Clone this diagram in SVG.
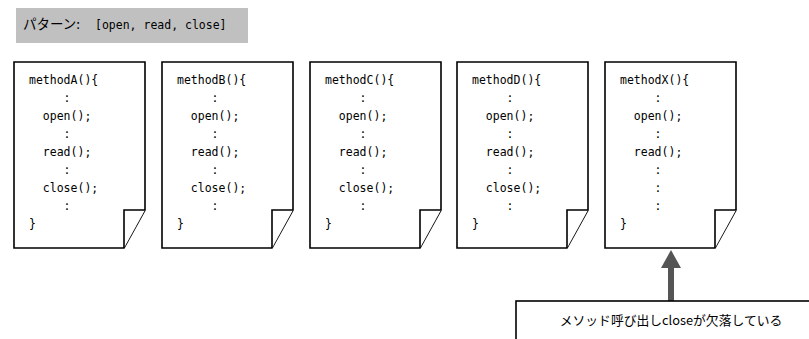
<svg xmlns="http://www.w3.org/2000/svg" width="809" height="339" viewBox="0 0 809 339">
<style>
.page{fill:#fff;stroke:#000;stroke-width:1.6;stroke-linejoin:miter}
.code{font-family:"DejaVu Sans Mono","Liberation Mono",monospace;font-size:11.5px;fill:#000}
.jp{font-family:"Noto Sans CJK JP","Noto Sans",sans-serif;fill:#000}
</style>
<defs>
<g id="doc">
<path class="page" d="M0,0 H131 V148 L110,186 H0 Z"/>
<path class="page" d="M110,186 V148 H131"/>
</g>
</defs>
<g id="pattern">
<rect x="16" y="8" width="232" height="35" fill="#c0c0c0"/>
<text y="29"><tspan class="jp" x="23" font-size="13.5">パターン:</tspan><tspan class="code" x="95" font-size="12">[open, read, close]</tspan></text>
</g>
<g id="methodA" transform="translate(14,62)">
<use href="#doc"/>
<text class="code" xml:space="preserve"><tspan x="15" y="22">methodA(){</tspan><tspan x="15" y="40">     :</tspan><tspan x="15" y="58">  open();</tspan><tspan x="15" y="76">     :</tspan><tspan x="15" y="94">  read();</tspan><tspan x="15" y="112">     :</tspan><tspan x="15" y="130">  close();</tspan><tspan x="15" y="148">     :</tspan><tspan x="15" y="166">}</tspan></text>
</g>
<g id="methodB" transform="translate(162,62)">
<use href="#doc"/>
<text class="code" xml:space="preserve"><tspan x="15" y="22">methodB(){</tspan><tspan x="15" y="40">     :</tspan><tspan x="15" y="58">  open();</tspan><tspan x="15" y="76">     :</tspan><tspan x="15" y="94">  read();</tspan><tspan x="15" y="112">     :</tspan><tspan x="15" y="130">  close();</tspan><tspan x="15" y="148">     :</tspan><tspan x="15" y="166">}</tspan></text>
</g>
<g id="methodC" transform="translate(310,62)">
<use href="#doc"/>
<text class="code" xml:space="preserve"><tspan x="15" y="22">methodC(){</tspan><tspan x="15" y="40">     :</tspan><tspan x="15" y="58">  open();</tspan><tspan x="15" y="76">     :</tspan><tspan x="15" y="94">  read();</tspan><tspan x="15" y="112">     :</tspan><tspan x="15" y="130">  close();</tspan><tspan x="15" y="148">     :</tspan><tspan x="15" y="166">}</tspan></text>
</g>
<g id="methodD" transform="translate(457,62)">
<use href="#doc"/>
<text class="code" xml:space="preserve"><tspan x="15" y="22">methodD(){</tspan><tspan x="15" y="40">     :</tspan><tspan x="15" y="58">  open();</tspan><tspan x="15" y="76">     :</tspan><tspan x="15" y="94">  read();</tspan><tspan x="15" y="112">     :</tspan><tspan x="15" y="130">  close();</tspan><tspan x="15" y="148">     :</tspan><tspan x="15" y="166">}</tspan></text>
</g>
<g id="methodX" transform="translate(605,62)">
<use href="#doc"/>
<text class="code" xml:space="preserve"><tspan x="15" y="22">methodX(){</tspan><tspan x="15" y="40">     :</tspan><tspan x="15" y="58">  open();</tspan><tspan x="15" y="76">     :</tspan><tspan x="15" y="94">  read();</tspan><tspan x="15" y="112">     :</tspan><tspan x="15" y="130">     :</tspan><tspan x="15" y="148">     :</tspan><tspan x="15" y="166">}</tspan></text>
</g>
<g id="connectors">
<rect x="668" y="267" width="6" height="35" fill="#555"/>
<path d="M671,250 L681,268 H661 Z" fill="#555"/>
</g>
<g id="note">
<rect x="516" y="301" width="300" height="50" fill="#fff" stroke="#000" stroke-width="1.6"/>
<text class="jp" x="671" y="325" font-size="12.8" text-anchor="middle">メソッド呼び出しcloseが欠落している</text>
</g>
</svg>
